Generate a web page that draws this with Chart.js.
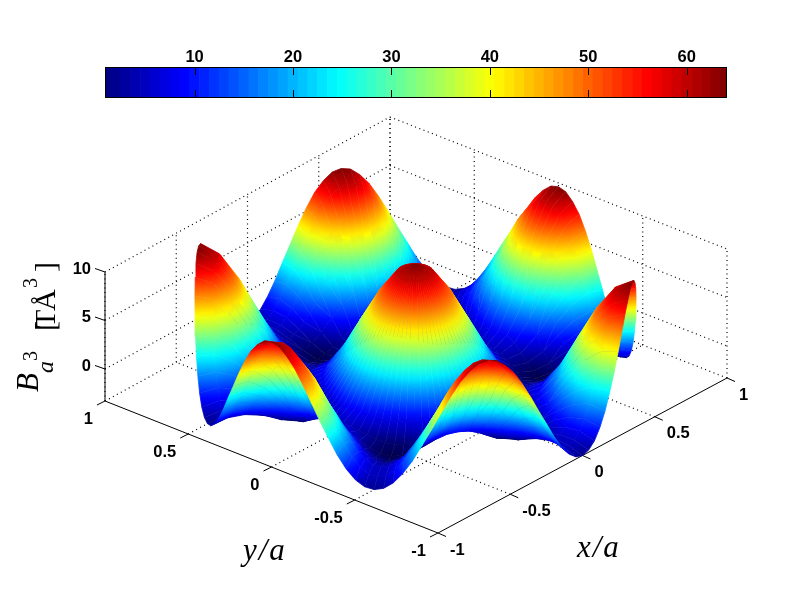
<!DOCTYPE html>
<html>
<head>
<meta charset="utf-8">
<title>Surface</title>
<script src="https://cdn.jsdelivr.net/npm/chart.js@4"></script>
<style>
  html, body { margin: 0; padding: 0; background: #fff; }
  #wrap { position: relative; width: 801px; height: 600px; overflow: hidden; }
  canvas { position: absolute; left: 0; top: 0; }
</style>
</head>
<body>
<div id="wrap">
  <canvas id="surface" width="801" height="600"></canvas>
  <canvas id="colorbar" width="801" height="106"></canvas>
</div>
<script>
// colorbar
const colorLevels = [1,2,3,4,5,6,7,8,9,10,11,12,13,14,15,16,17,18,19,20,21,22,23,24,25,26,27,28,29,30,31,32,
  33,34,35,36,37,38,39,40,41,42,43,44,45,46,47,48,49,50,51,52,53,54,55,56,57,58,59,60,61,62,63,64];
const colorbarTicks = [10,20,30,40,50,60];

// axes: the valleys of the surface go a little below the floor of the box
const xyTicks = [-1,-0.5,0,0.5,1];
const zTicks = [0,5,10];
const zFloor = -3.3, zTop = 10;
const zLow = -3.5, zHigh = 9.6;

// surface, polar table: z at the centre, then one list per ring going round from angle 0.
// inner rings are sampled every 5 deg, the outer ones every 2.5 deg
const ringRadii = [0.083,0.167,0.25,0.333,0.417,0.5,0.583,0.667,0.75,0.833,0.917,1];
const centerZ = [9.6];
const ring1 = [8.8,8.8,8.8,8.8,8.8,8.8,8.8,8.8,8.8,8.8,8.8,8.8,8.8,8.8,8.8,8.8,8.8,8.8,8.8,8.8,8.8,8.8,8.8,8.8,
  8.8,8.8,8.8,8.8,8.8,8.8,8.8,8.8,8.8,8.8,8.8,8.8,8.8,8.8,8.8,8.8,8.8,8.8,8.8,8.8,8.8,8.8,8.8,8.8,
  8.8,8.8,8.8,8.8,8.8,8.8,8.8,8.8,8.8,8.8,8.8,8.8,8.8,8.8,8.8,8.8,8.8,8.8,8.8,8.8,8.8,8.8,8.8,8.8];
const ring2 = [6.5,6.5,6.5,6.5,6.5,6.5,6.5,6.5,6.5,6.5,6.5,6.5,6.5,6.5,6.5,6.5,6.5,6.5,6.5,6.5,6.5,6.5,6.5,6.5,
  6.5,6.5,6.5,6.5,6.5,6.5,6.5,6.5,6.5,6.5,6.5,6.5,6.5,6.5,6.5,6.5,6.5,6.5,6.5,6.5,6.5,6.5,6.5,6.5,
  6.5,6.5,6.5,6.5,6.5,6.5,6.5,6.5,6.5,6.5,6.5,6.5,6.5,6.5,6.5,6.5,6.5,6.5,6.5,6.5,6.5,6.5,6.5,6.5];
const ring3 = [3.5,3.5,3.5,3.5,3.4,3.4,3.4,3.4,3.4,3.5,3.5,3.5,3.5,3.5,3.5,3.5,3.4,3.4,3.4,3.4,3.4,3.5,3.5,3.5,
  3.5,3.5,3.5,3.5,3.4,3.4,3.4,3.4,3.4,3.5,3.5,3.5,3.5,3.5,3.5,3.5,3.4,3.4,3.4,3.4,3.4,3.5,3.5,3.5,
  3.5,3.5,3.5,3.5,3.4,3.4,3.4,3.4,3.4,3.5,3.5,3.5,3.5,3.5,3.5,3.5,3.4,3.4,3.4,3.4,3.4,3.5,3.5,3.5];
const ring4 = [.4,.4,.4,.3,.3,.3,.3,.3,.3,.3,.4,.4,.4,.4,.4,.3,.3,.3,.3,.3,.3,.3,.4,.4,
  .4,.4,.4,.3,.3,.3,.3,.3,.3,.3,.4,.4,.4,.4,.4,.3,.3,.3,.3,.3,.3,.3,.4,.4,
  .4,.4,.4,.3,.3,.3,.3,.3,.3,.3,.4,.4,.4,.4,.4,.3,.3,.3,.3,.3,.3,.3,.4,.4];
const ring5 = [-1.9,-1.9,-2,-2.1,-2.2,-2.3,-2.3,-2.3,-2.2,-2.1,-2,-1.9,-1.9,-1.9,-2,-2.1,-2.2,-2.3,-2.3,-2.3,-2.2,-2.1,-2,-1.9,
  -1.9,-1.9,-2,-2.1,-2.2,-2.3,-2.3,-2.3,-2.2,-2.1,-2,-1.9,-1.9,-1.9,-2,-2.1,-2.2,-2.3,-2.3,-2.3,-2.2,-2.1,-2,-1.9,
  -1.9,-1.9,-2,-2.1,-2.2,-2.3,-2.3,-2.3,-2.2,-2.1,-2,-1.9,-1.9,-1.9,-2,-2.1,-2.2,-2.3,-2.3,-2.3,-2.2,-2.1,-2,-1.9];
const ring6 = [-2.7,-2.8,-3,-3.2,-3.5,-3.7,-3.8,-3.7,-3.5,-3.2,-3,-2.8,-2.7,-2.8,-3,-3.2,-3.5,-3.7,-3.8,-3.7,-3.5,-3.2,-3,-2.8,
  -2.7,-2.8,-3,-3.2,-3.5,-3.7,-3.8,-3.7,-3.5,-3.2,-3,-2.8,-2.7,-2.8,-3,-3.2,-3.5,-3.7,-3.8,-3.7,-3.5,-3.2,-3,-2.8,
  -2.7,-2.8,-3,-3.2,-3.5,-3.7,-3.8,-3.7,-3.5,-3.2,-3,-2.8,-2.7,-2.8,-3,-3.2,-3.5,-3.7,-3.8,-3.7,-3.5,-3.2,-3,-2.8];
const ring7 = [-1.9,-2,-2.4,-3,-3.6,-4,-4.2,-4,-3.6,-3,-2.4,-2,-1.9,-2,-2.4,-3,-3.6,-4,-4.2,-4,-3.6,-3,-2.4,-2,
  -1.9,-2,-2.4,-3,-3.6,-4,-4.2,-4,-3.6,-3,-2.4,-2,-1.9,-2,-2.4,-3,-3.6,-4,-4.2,-4,-3.6,-3,-2.4,-2,
  -1.9,-2,-2.4,-3,-3.6,-4,-4.2,-4,-3.6,-3,-2.4,-2,-1.9,-2,-2.4,-3,-3.6,-4,-4.2,-4,-3.6,-3,-2.4,-2];
const ring8 = [.4,.1,-.7,-1.7,-2.8,-3.5,-3.8,-3.5,-2.8,-1.7,-.7,.1,.4,.1,-.7,-1.7,-2.8,-3.5,-3.8,-3.5,-2.8,-1.7,-.7,.1,
  .4,.1,-.7,-1.7,-2.8,-3.5,-3.8,-3.5,-2.8,-1.7,-.7,.1,.4,.1,-.7,-1.7,-2.8,-3.5,-3.8,-3.5,-2.8,-1.7,-.7,.1,
  .4,.1,-.7,-1.7,-2.8,-3.5,-3.8,-3.5,-2.8,-1.7,-.7,.1,.4,.1,-.7,-1.7,-2.8,-3.5,-3.8,-3.5,-2.8,-1.7,-.7,.1];
const ring9 = [3.5,3.4,3,2.5,1.8,1,.1,-.7,-1.5,-2.2,-2.7,-3,-3.2,-3,-2.7,-2.2,-1.5,-.7,.1,1,1.8,2.5,3,3.4,
  3.5,3.4,3,2.5,1.8,1,.1,-.7,-1.5,-2.2,-2.7,-3,-3.2,-3,-2.7,-2.2,-1.5,-.7,.1,1,1.8,2.5,3,3.4,
  3.5,3.4,3,2.5,1.8,1,.1,-.7,-1.5,-2.2,-2.7,-3,-3.2,-3,-2.7,-2.2,-1.5,-.7,.1,1,1.8,2.5,3,3.4,
  3.5,3.4,3,2.5,1.8,1,.1,-.7,-1.5,-2.2,-2.7,-3,-3.2,-3,-2.7,-2.2,-1.5,-.7,.1,1,1.8,2.5,3,3.4,
  3.5,3.4,3,2.5,1.8,1,.1,-.7,-1.5,-2.2,-2.7,-3,-3.2,-3,-2.7,-2.2,-1.5,-.7,.1,1,1.8,2.5,3,3.4,
  3.5,3.4,3,2.5,1.8,1,.1,-.7,-1.5,-2.2,-2.7,-3,-3.2,-3,-2.7,-2.2,-1.5,-.7,.1,1,1.8,2.5,3,3.4];
const ring10 = [6.5,6.4,5.9,5.2,4.2,3.1,1.9,.7,-.4,-1.4,-2.1,-2.6,-2.7,-2.6,-2.1,-1.4,-.4,.7,1.9,3.1,4.2,5.2,5.9,6.4,
  6.5,6.4,5.9,5.2,4.2,3.1,1.9,.7,-.4,-1.4,-2.1,-2.6,-2.7,-2.6,-2.1,-1.4,-.4,.7,1.9,3.1,4.2,5.2,5.9,6.4,
  6.5,6.4,5.9,5.2,4.2,3.1,1.9,.7,-.4,-1.4,-2.1,-2.6,-2.7,-2.6,-2.1,-1.4,-.4,.7,1.9,3.1,4.2,5.2,5.9,6.4,
  6.5,6.4,5.9,5.2,4.2,3.1,1.9,.7,-.4,-1.4,-2.1,-2.6,-2.7,-2.6,-2.1,-1.4,-.4,.7,1.9,3.1,4.2,5.2,5.9,6.4,
  6.5,6.4,5.9,5.2,4.2,3.1,1.9,.7,-.4,-1.4,-2.1,-2.6,-2.7,-2.6,-2.1,-1.4,-.4,.7,1.9,3.1,4.2,5.2,5.9,6.4,
  6.5,6.4,5.9,5.2,4.2,3.1,1.9,.7,-.4,-1.4,-2.1,-2.6,-2.7,-2.6,-2.1,-1.4,-.4,.7,1.9,3.1,4.2,5.2,5.9,6.4];
const ring11 = [8.8,8.6,8,7.1,5.9,4.4,3,1.5,.1,-1.1,-2,-2.6,-2.8,-2.6,-2,-1.1,.1,1.5,3,4.4,5.9,7.1,8,8.6,
  8.8,8.6,8,7.1,5.9,4.4,3,1.5,.1,-1.1,-2,-2.6,-2.8,-2.6,-2,-1.1,.1,1.5,3,4.4,5.9,7.1,8,8.6,
  8.8,8.6,8,7.1,5.9,4.4,3,1.5,.1,-1.1,-2,-2.6,-2.8,-2.6,-2,-1.1,.1,1.5,3,4.4,5.9,7.1,8,8.6,
  8.8,8.6,8,7.1,5.9,4.4,3,1.5,.1,-1.1,-2,-2.6,-2.8,-2.6,-2,-1.1,.1,1.5,3,4.4,5.9,7.1,8,8.6,
  8.8,8.6,8,7.1,5.9,4.4,3,1.5,.1,-1.1,-2,-2.6,-2.8,-2.6,-2,-1.1,.1,1.5,3,4.4,5.9,7.1,8,8.6,
  8.8,8.6,8,7.1,5.9,4.4,3,1.5,.1,-1.1,-2,-2.6,-2.8,-2.6,-2,-1.1,.1,1.5,3,4.4,5.9,7.1,8,8.6];
const ring12 = [9.6,9.4,8.7,7.7,6.3,4.7,3,1.4,-.2,-1.5,-2.5,-3.1,-3.3,-3.1,-2.5,-1.5,-.2,1.4,3,4.7,6.3,7.7,8.7,9.4,
  9.6,9.4,8.7,7.7,6.3,4.7,3,1.4,-.2,-1.5,-2.5,-3.1,-3.3,-3.1,-2.5,-1.5,-.2,1.4,3,4.7,6.3,7.7,8.7,9.4,
  9.6,9.4,8.7,7.7,6.3,4.7,3,1.4,-.2,-1.5,-2.5,-3.1,-3.3,-3.1,-2.5,-1.5,-.2,1.4,3,4.7,6.3,7.7,8.7,9.4,
  9.6,9.4,8.7,7.7,6.3,4.7,3,1.4,-.2,-1.5,-2.5,-3.1,-3.3,-3.1,-2.5,-1.5,-.2,1.4,3,4.7,6.3,7.7,8.7,9.4,
  9.6,9.4,8.7,7.7,6.3,4.7,3,1.4,-.2,-1.5,-2.5,-3.1,-3.3,-3.1,-2.5,-1.5,-.2,1.4,3,4.7,6.3,7.7,8.7,9.4,
  9.6,9.4,8.7,7.7,6.3,4.7,3,1.4,-.2,-1.5,-2.5,-3.1,-3.3,-3.1,-2.5,-1.5,-.2,1.4,3,4.7,6.3,7.7,8.7,9.4];
const surfaceRings = [ring1,ring2,ring3,ring4,ring5,ring6,ring7,ring8,ring9,ring10,ring11,ring12];

// matlab jet
function jet(t) {
  const c = v => Math.round(255 * Math.max(0, Math.min(1, v)));
  return `rgb(${c(1.5 - Math.abs(4 * t - 3))},${c(1.5 - Math.abs(4 * t - 2))},${c(1.5 - Math.abs(4 * t - 1))})`;
}
const zColor = z => jet((z - zLow) / (zHigh - zLow));

// 3d box -> picture plane (corners of the box)
function project(x, y, z) {
  const u = (x + 1) / 2, v = (y + 1) / 2;
  return {
    x: 438 + 289 * u - 333 * v - 4 * u * v,
    y: 533 - 155 * u - 132 * v - 9.7 * (z - zFloor)
  };
}

const surfaceCanvas = document.getElementById("surface");
const sctx = surfaceCanvas.getContext("2d");

function cellPaint(pts, zs) {
  const mean = (zs[0] + zs[1] + zs[2] + zs[3]) / 4;
  const lo = Math.min(...zs), hi = Math.max(...zs);
  const d1x = pts[2].x - pts[0].x, d1y = pts[2].y - pts[0].y;
  const d2x = pts[3].x - pts[1].x, d2y = pts[3].y - pts[1].y;
  const det = d1x * d2y - d1y * d2x;
  if (Math.abs(det) < 1 || hi - lo < 0.02) return zColor(mean);
  const dz1 = zs[2] - zs[0], dz2 = zs[3] - zs[1];
  const gx = (dz1 * d2y - dz2 * d1y) / det;
  const gy = (d1x * dz2 - d2x * dz1) / det;
  const g2 = gx * gx + gy * gy;
  if (g2 < 1e-6) return zColor(mean);
  const cx = (pts[0].x + pts[1].x + pts[2].x + pts[3].x) / 4;
  const cy = (pts[0].y + pts[1].y + pts[2].y + pts[3].y) / 4;
  const grad = sctx.createLinearGradient(
    cx + gx * (lo - mean) / g2, cy + gy * (lo - mean) / g2,
    cx + gx * (hi - mean) / g2, cy + gy * (hi - mean) / g2
  );
  for (let s = 0; s <= 4; s++) grad.addColorStop(s / 4, zColor(lo + (hi - lo) * s / 4));
  return grad;
}

function buildCells() {
  const cells = [];
  const polar = (r, deg, z) => project(r * Math.cos(deg * Math.PI / 180), r * Math.sin(deg * Math.PI / 180), z);
  surfaceRings.forEach((ring, i) => {
    const inner = i === 0 ? centerZ : surfaceRings[i - 1];
    const innerR = i === 0 ? 0 : ringRadii[i - 1];
    const outerR = ringRadii[i];
    const n = ring.length, nIn = inner.length;
    const ratio = n / nIn;
    ring.forEach((zOuter, j) => {
      const k = (j + 1) % n;
      const inA = Math.floor(j / ratio);
      const inB = Math.floor((j + 1) / ratio) % nIn;
      const a = j * 360 / n, b = (j + 1) * 360 / n;
      const zs = [inner[inA], inner[inB], ring[k], zOuter];
      const pts = [
        polar(innerR, inA * 360 / nIn, inner[inA]),
        polar(innerR, inB * 360 / nIn, inner[inB]),
        polar(outerR, b, ring[k]),
        polar(outerR, a, zOuter)
      ];
      // depth: where the cell sits on the floor of the box
      const mid = (innerR + outerR) / 2, m = (a + b) / 2 * Math.PI / 180;
      const depth = project(mid * Math.cos(m), mid * Math.sin(m), zFloor).y;
      const paint = cellPaint(pts, zs);
      cells.push({
        depth,
        dataset: {
          data: pts, showLine: true, fill: "shape", pointRadius: 0,
          backgroundColor: paint, borderColor: paint, borderWidth: 0.8
        }
      });
    });
  });
  // first dataset is painted last, so nearest cells go first
  cells.sort((p, q) => q.depth - p.depth);
  return cells.map(c => c.dataset);
}

function segment(a, b, dashed) {
  return {
    data: [a, b], showLine: true, fill: false, pointRadius: 0,
    borderColor: "#000", borderWidth: dashed ? 1.2 : 1,
    borderDash: dashed ? [1, 3.5] : []
  };
}

function buildBox() {
  const out = [];
  const grid = (a, b) => out.push(segment(a, b, true));
  const solid = (a, b) => out.push(segment(a, b, false));
  xyTicks.forEach(t => {
    if (t > -1) grid(project(t, -1, zFloor), project(t, 1, zFloor));
    if (t > -1) grid(project(-1, t, zFloor), project(1, t, zFloor));
    grid(project(t, 1, zFloor), project(t, 1, zTop));
    grid(project(1, t, zFloor), project(1, t, zTop));
  });
  zTicks.forEach(z => {
    grid(project(-1, 1, z), project(1, 1, z));
    grid(project(1, 1, z), project(1, -1, z));
  });
  solid(project(-1, 1, zFloor), project(-1, 1, zTop));
  solid(project(-1, 1, zFloor), project(-1, -1, zFloor));
  solid(project(-1, -1, zFloor), project(1, -1, zFloor));
  xyTicks.forEach(t => {
    const px = project(t, -1, zFloor), py = project(-1, t, zFloor);
    solid(px, { x: px.x + 8, y: px.y + 3.5 });
    solid(py, { x: py.x - 8, y: py.y + 4 });
  });
  zTicks.forEach(z => {
    const p = project(-1, 1, z);
    solid(p, { x: p.x - 10, y: p.y - 3.5 });
  });
  return out;
}

const boxLabels = {
  id: "boxLabels",
  afterDraw(chart) {
    const c = chart.ctx;
    c.save();
    c.fillStyle = "#000";
    c.font = "bold 16.5px 'Liberation Sans'";
    c.textBaseline = "middle";
    xyTicks.forEach(t => {
      const px = project(t, -1, zFloor), py = project(-1, t, zFloor);
      c.textAlign = "left";
      c.fillText(String(t), px.x + 12, px.y + 17);
      c.textAlign = "right";
      c.fillText(String(t), py.x - 12, py.y + 18);
    });
    c.textAlign = "right";
    zTicks.forEach(z => {
      c.fillText(String(z), 91, project(-1, 1, z).y - 3);
    });

    // axis titles
    c.textBaseline = "alphabetic";
    c.textAlign = "left";
    c.font = "italic 31px 'Liberation Serif'";
    c.letterSpacing = "2px";
    c.fillText("y/a", 243, 560);
    c.fillText("x/a", 577, 557);
    c.letterSpacing = "0px";
    const up = (text, x, y, font) => {
      c.save();
      c.translate(x, y);
      c.rotate(-Math.PI / 2);
      c.font = font;
      c.fillText(text, 0, 0);
      c.restore();
    };
    up("B", 38, 392, "italic 31px 'Liberation Serif'");
    up("a", 53, 373, "italic 24px 'Liberation Serif'");
    up("3", 37, 361, "20px 'Liberation Serif'");
    up("[", 55, 331, "30px 'Liberation Serif'");
    up("T", 55, 328, "30px 'Liberation Serif'");
    up("Å", 55, 311, "30px 'Liberation Serif'");
    up("3", 37, 288, "20px 'Liberation Serif'");
    up("]", 55, 272, "30px 'Liberation Serif'");
    c.restore();
  }
};

new Chart(surfaceCanvas, {
  type: "scatter",
  data: { datasets: buildCells().concat(buildBox()) },
  options: {
    responsive: false,
    animation: false,
    events: [],
    layout: { padding: 0 },
    scales: {
      x: { type: "linear", min: 0, max: 801, display: false },
      y: { type: "linear", min: 0, max: 600, reverse: true, display: false }
    },
    plugins: { legend: { display: false }, tooltip: { enabled: false } }
  },
  plugins: [boxLabels]
});

// colorbar ticks sit inside the bar, top and bottom
const colorbarFrame = {
  id: "colorbarFrame",
  afterDatasetsDraw(chart) {
    const { ctx, chartArea: { left, right, top, bottom }, scales: { x } } = chart;
    ctx.save();
    ctx.strokeStyle = "#000";
    ctx.lineWidth = 1;
    colorbarTicks.forEach(t => {
      const p = Math.round(x.getPixelForValue(t)) + 0.5;
      ctx.beginPath();
      ctx.moveTo(p, top); ctx.lineTo(p, top + 7);
      ctx.moveTo(p, bottom); ctx.lineTo(p, bottom - 7);
      ctx.stroke();
    });
    ctx.strokeRect(left - 0.5, top - 0.5, right - left + 1, bottom - top + 1);
    ctx.restore();
  }
};

new Chart(document.getElementById("colorbar"), {
  type: "bar",
  data: {
    datasets: [{
      data: colorLevels.map(k => ({ x: k, y: 1 })),
      backgroundColor: colorLevels.map(k => jet((k - 1) / 63)),
      barPercentage: 1,
      categoryPercentage: 1
    }]
  },
  options: {
    responsive: false,
    animation: false,
    events: [],
    layout: { padding: { left: 106, right: 75, top: 0, bottom: 9 } },
    scales: {
      x: {
        type: "linear", position: "top", min: 1, max: 64, offset: false,
        afterBuildTicks: s => { s.ticks = colorbarTicks.map(v => ({ value: v })); },
        afterFit: s => { s.height = 68; },
        grid: { display: false, drawTicks: false },
        border: { display: false },
        ticks: {
          autoSkip: false, maxRotation: 0, padding: 1, color: "#000",
          font: { family: "'Liberation Sans'", size: 16.5, weight: "bold" }
        }
      },
      y: { min: 0, max: 1, display: false }
    },
    plugins: { legend: { display: false }, tooltip: { enabled: false } }
  },
  plugins: [colorbarFrame]
});
</script>
</body>
</html>
